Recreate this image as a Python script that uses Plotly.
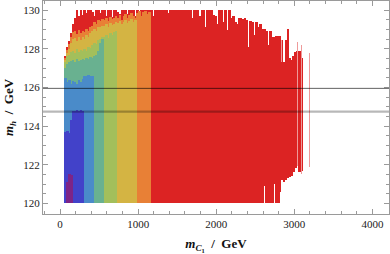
import numpy as np
import plotly.graph_objects as go

# ---- data: m_C1 bins (GeV) and m_h ranges (GeV) per colour class ----
BIN_START = 50.0
BIN_STEP = 25.0
MH_FLOOR = 120.0

red_top = [
    127.6, 128.1, 128.4, 128.8, 129.3, 129.6, 130.0, 129.7, 130.0, 129.75,
    130.0, 129.85, 130.0, 130.0, 129.9, 129.7, 130.0, 130.0, 129.85, 130.0,
    130.0, 129.7, 130.0, 130.0, 129.65, 130.0, 130.0, 129.9, 129.8, 130.0,
    130.0, 130.0, 129.8, 130.0, 130.0, 130.0, 129.7, 130.0, 129.6, 130.0,
    130.0, 130.0, 130.0, 130.0, 130.0, 129.7, 130.0, 130.0, 130.0, 130.0,
    130.0, 130.0, 130.0, 129.85, 130.0, 130.0, 130.0, 130.0, 130.0, 130.0,
    130.0, 130.0, 130.0, 130.0, 130.0, 129.6, 130.0, 130.0, 130.0, 129.7,
    130.0, 130.0, 129.1, 130.0, 130.0, 130.0, 129.75, 129.7, 129.3, 130.0,
    130.0, 129.4, 130.0, 128.95, 130.0, 129.6, 129.7, 129.4, 129.3, 129.6,
    129.6, 129.55, 129.6, 129.5, 128.1, 129.45, 129.4, 128.7, 129.4, 129.1,
    129.3, 129.0, 129.0, 128.9, 128.2, 128.9, 128.6, 128.6, 128.65, 128.65,
    128.65, 128.45, 127.3, 128.45, 129.0, 127.5, 127.4, 127.65, 127.85, 127.9,
    127.9, 127.5,
]
red_low = [
    120.0, 120.0, 120.0, 120.0, 120.0, 120.0, 120.0, 120.0, 120.0, 120.0,
    120.0, 120.0, 120.0, 120.0, 120.0, 120.0, 120.0, 120.0, 120.0, 120.0,
    120.0, 120.0, 120.0, 120.0, 120.0, 120.0, 120.0, 120.0, 120.0, 120.0,
    120.0, 120.0, 120.0, 120.0, 120.0, 120.0, 120.0, 120.0, 120.0, 120.0,
    120.0, 120.0, 120.0, 120.0, 120.0, 120.0, 120.0, 120.0, 120.0, 120.0,
    120.0, 120.0, 120.0, 120.0, 120.0, 120.0, 120.0, 120.0, 120.0, 120.0,
    120.0, 120.0, 120.0, 120.0, 120.0, 120.0, 120.0, 120.0, 120.0, 120.0,
    120.0, 120.0, 120.0, 120.0, 120.0, 120.0, 120.0, 120.0, 120.0, 120.0,
    120.0, 120.0, 120.0, 120.0, 120.0, 120.0, 120.0, 120.0, 120.0, 120.0,
    120.0, 120.0, 120.0, 120.0, 120.0, 120.0, 120.0, 120.0, 120.0, 120.0,
    120.0, 120.0, 120.9, 120.0, 120.0, 120.0, 120.0, 121.0, 120.0, 120.0,
    120.6, 121.2, 121.1, 121.2, 121.3, 121.35, 121.4, 121.6, 121.85, 121.95,
    121.6, 121.7,
]
orange_top = [
    127.5, 127.95, 128.25, 128.6, 128.85, 128.9, 128.75, 128.95, 128.8, 128.9,
    128.85, 129.0, 128.9, 129.1, 129.2,
    129.4, 129.3, 129.5, 129.45, 129.55,
    129.5, 129.6, 129.45, 129.65, 129.55, 129.6, 129.7,
    129.6, 129.75, 129.5, 129.7, 129.8, 129.6, 129.75, 129.85, 129.7, 129.6,
    129.85, 129.95, 129.7, 129.9, 129.95, 129.8, 129.9,
]
yellow_top = [
    127.4, 127.8, 128.0, 128.3, 128.5, 128.55, 128.4, 128.6, 128.45, 128.6,
    128.5, 128.7, 128.6, 128.8, 128.9,
    129.0, 128.9, 129.15, 129.1, 129.2,
    129.2, 129.3, 129.1, 129.35, 129.25, 129.3, 129.4,
    129.35, 129.45, 129.3, 129.4, 129.5, 129.35, 129.45, 129.55, 129.4, 129.5,
]
green_top = [
    127.3, 127.6, 127.7, 127.85, 127.9, 127.8, 128.0, 127.85, 127.95, 127.9,
    128.0, 127.9, 128.1, 128.05, 128.2,
    128.3, 128.25, 128.45, 128.5, 128.6,
    128.6, 128.7, 128.55, 128.8, 128.7, 128.85, 128.9,
]
teal_top = [
    127.0, 127.2, 127.3, 127.35, 127.4, 127.3, 127.45, 127.35, 127.4, 127.45,
    127.4, 127.5, 127.45, 127.55, 127.5,
    127.6, 127.7, 127.9, 128.3, 128.5,
]
lightblue_top = [
    126.5, 126.3, 126.4, 126.2, 126.35, 126.3, 126.2, 126.4, 126.3, 126.45,
    126.6, 126.6, 126.65, 126.6, 126.6,
]
darkblue_top = [123.7, 123.75, 123.65, 124.3, 124.8, 124.8, 124.85, 124.8, 124.85, 124.8]
purple_top = [120.0, 121.1, 121.5, 121.45]

# sparse, lighter points
pale_mc1 = [2840.0, 3035.0, 3092.0, 3196.0]
pale_low = [127.3, 121.95, 121.5, 121.9]
pale_high = [128.45, 128.36, 128.2, 127.8]

# Higgs mass band limits
mh_band = [124.75, 125.95]

x_ticks = [0, 1000, 2000, 3000, 4000]
y_ticks = [120, 122, 124, 126, 128, 130]

# ---- figure ----
def centers(n):
    return BIN_START + BIN_STEP * (np.arange(n) + 0.5)

layers = [
    (red_top, red_low, "#dc2323"),
    (orange_top, None, "#e88036"),
    (yellow_top, None, "#d4b443"),
    (green_top, None, "#a3bf5b"),
    (teal_top, None, "#69b190"),
    (lightblue_top, None, "#4a8bc9"),
    (darkblue_top, None, "#4242c9"),
    (purple_top, None, "#7d2487"),
]

fig = go.Figure()
for top, low, col in layers:
    top = np.array(top)
    low = np.full(len(top), MH_FLOOR) if low is None else np.array(low)
    # bars are laid left to right; each slightly overlaps the next to avoid seams
    xc = centers(len(top)) + 0.2 * BIN_STEP
    fig.add_trace(go.Bar(
        x=xc, y=top - low, base=low, width=1.4 * BIN_STEP,
        marker=dict(color=col, line=dict(width=0)),
        hoverinfo="skip", showlegend=False,
    ))

fig.add_trace(go.Bar(
    x=pale_mc1, y=np.array(pale_high) - np.array(pale_low), base=pale_low, width=14,
    marker=dict(color="#ee9a9a", line=dict(width=0)),
    hoverinfo="skip", showlegend=False,
))

line_styles = [dict(color="rgba(0,0,0,0.28)", width=2.2), dict(color="rgba(0,0,0,0.62)", width=1)]
for yv, st in zip(mh_band, line_styles):
    fig.add_shape(type="line", xref="paper", x0=0, x1=1, yref="y", y0=yv, y1=yv,
                  line=st, layer="above")

serif = "Liberation Serif, Times New Roman, serif"
axis_common = dict(
    showline=True, linecolor="#9a9a9a", linewidth=1, mirror="allticks",
    ticks="inside", ticklen=5, tickcolor="#9a9a9a", tickwidth=1,
    showgrid=False, zeroline=False, automargin=False,
    tickfont=dict(family=serif, size=11, color="#222"),
)

fig.update_layout(
    width=390, height=254,
    margin=dict(l=43, r=1, t=1, b=40),
    paper_bgcolor="white", plot_bgcolor="white",
    barmode="overlay", bargap=0, hovermode=False,
    xaxis=dict(range=[-218, 4212], tickvals=x_ticks,
               minor=dict(ticks="inside", ticklen=3, dtick=200, tickcolor="#9a9a9a"),
               title=dict(text="<b><i>m</i><sub><i>C</i><sub>1</sub></sub>  /  GeV</b>",
                          font=dict(family=serif, size=13, color="#111"),
                          standoff=11),
               **axis_common),
    yaxis=dict(range=[119.45, 130.47], tickvals=y_ticks,
               minor=dict(ticks="inside", ticklen=3, dtick=0.5, tickcolor="#9a9a9a"),
               title=dict(text="<b><i>m</i><sub><i>h</i></sub>  /  GeV</b>",
                          font=dict(family=serif, size=13, color="#111"),
                          standoff=6),
               **axis_common),
)

fig.write_html(
    "out.html",
    config={"displayModeBar": False, "staticPlot": True},
    post_script="document.body.style.margin='0';document.body.style.overflow='hidden';",
)
